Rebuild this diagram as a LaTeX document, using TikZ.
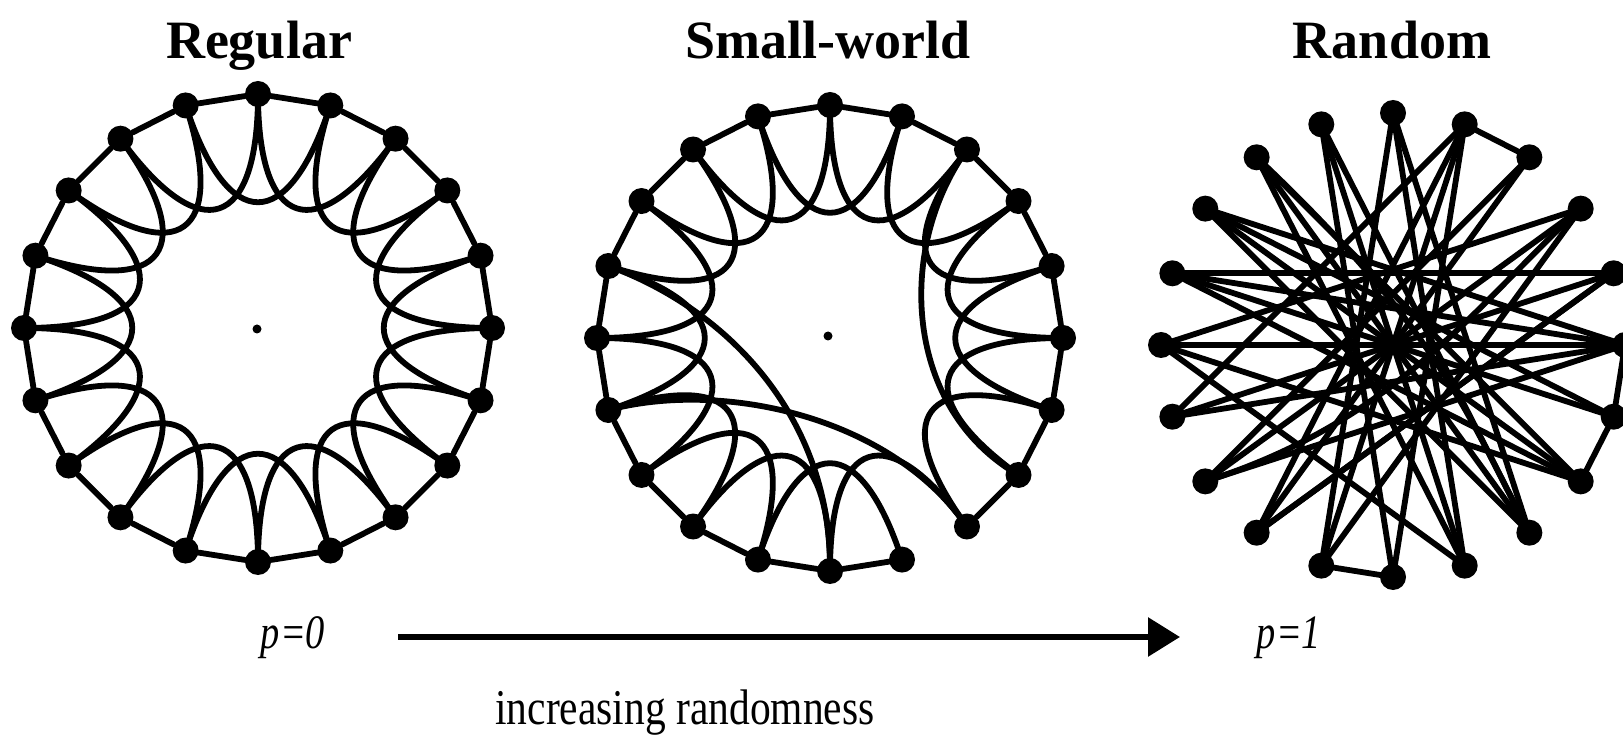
\documentclass[tikz,border=0pt]{standalone}
\usepackage{fontspec}
\setmainfont{Liberation Serif}
\usetikzlibrary{arrows.meta}
\begin{document}
\begin{tikzpicture}[x=0.5pt,y=-0.5pt,
  edge/.style={line width=2.9pt, line cap=round, line join=round},
  dot/.style={circle, fill=black, inner sep=0pt, minimum size=13pt},
  cdot/.style={circle, fill=black, inner sep=0pt, minimum size=4.5pt},
  title/.style={font=\fontsize{27}{27}\bfseries\selectfont, anchor=base},
  plabel/.style={font=\fontsize{24}{24}\itshape\selectfont, anchor=base},
  caption/.style={font=\fontsize{25}{25}\selectfont, anchor=base}]
\useasboundingbox (0,0) rectangle (1623,737);

% ---------- titles ----------
\node[title] (tReg) at (259,59) {Regular};
\node[title] (tSW) at (828,59) {Small-world};
\node[title] (tRnd) at (1392,59) {Random};

% ---------- Regular ----------
\foreach \i in {0,...,19}{
  \node[dot] (reg\i) at ({258+234*cos(90-18*\i)},{328-234*sin(90-18*\i)}) {};
  \coordinate (regc\i) at ({258+0.42*234*cos(90-18*\i)},{328-0.42*234*sin(90-18*\i)});
}
\node[cdot] (regctr) at (257,329) {};
\foreach \i in {0,...,19}{
  \pgfmathtruncatemacro\j{mod(\i+1,20)}
  \pgfmathtruncatemacro\k{mod(\i+2,20)}
  \draw[edge] (reg\i) -- (reg\j);
  \draw[edge] (reg\i.center) .. controls (regc\i) and (regc\k) .. (reg\k.center);
}

% ---------- Small-world ----------
\foreach \i in {0,...,19}{
  \node[dot] (sw\i) at ({830+233*cos(90-18*\i)},{338-233*sin(90-18*\i)}) {};
  \coordinate (swc\i) at ({830+0.42*233*cos(90-18*\i)},{338-0.42*233*sin(90-18*\i)});
}
\node[cdot] (swctr) at (828,336) {};
\foreach \i in {0,1,2,3,4,5,6,7,9,10,11,12,13,14,15,16,17,18,19}{
  \pgfmathtruncatemacro\j{mod(\i+1,20)}
  \draw[edge] (sw\i) -- (sw\j);
}
\foreach \i in {0,1,2,3,4,5,6,8,9,10,11,12,13,14,15,16,17,18,19}{
  \pgfmathtruncatemacro\k{mod(\i+2,20)}
  \draw[edge] (sw\i.center) .. controls (swc\i) and (swc\k) .. (sw\k.center);
}
\draw[edge] (sw16.center) .. controls (730,310) and (832,420) .. (sw10.center);
\draw[edge] (sw14.center) .. controls (720,380) and (890,415) .. (sw8.center);
\draw[edge] (sw2.center) .. controls (895,250) and (905,410) .. (sw7.center);

% ---------- Random ----------
\foreach \i in {0,...,19}{
  \node[dot] (rn\i) at ({1393+232*cos(90-18*\i)},{345-232*sin(90-18*\i)}) {};
}
\foreach \a/\b in {0/11,0/9,19/8,19/9,18/9,18/7,18/8,17/6,17/5,17/7,16/5,16/7,16/4,
  15/5,15/7,15/3,14/4,14/5,13/3,13/2,12/1,12/2,12/4,11/1,10/11,10/1,1/2,5/6,6/7,
  6/16,8/17,14/1,13/5,11/3,9/15,10/19,8/0,4/12}{
  \draw[edge] (rn\a.center) -- (rn\b.center);
}
\draw[edge] (rn8.center) .. controls (1470,420) and (1440,330) .. (rn18.center);
\draw[edge] (rn3.center) .. controls (1480,300) and (1400,420) .. (rn13.center);

% ---------- bottom ----------
\node[plabel] (p0) at (293,648) {\scalebox{0.8}[1]{p=0}};
\node[plabel] (p1) at (1289,648) {\scalebox{0.8}[1]{p=1}};
\coordinate (arrS) at (398,637);
\coordinate (arrE) at (1180,637);
\draw[line width=3pt, -{Triangle[length=16pt,width=19pt]}] (arrS) -- (arrE);
\node[caption] (inc) at (685,724) {\scalebox{0.83}[1]{increasing randomness}};
\end{tikzpicture}
\end{document}
